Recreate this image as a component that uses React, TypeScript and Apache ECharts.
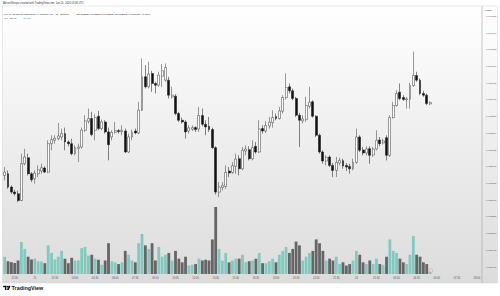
import React, { useEffect, useRef } from "react";
import * as echarts from "echarts";

// ---- data (15m candles, PUAP/USDT perpetual) ----
const opens = [
  0.002674, 0.002679, 0.002639, 0.002624, 0.002619, 0.002599, 0.002709, 0.002727, 0.002679, 0.002664,
  0.002679, 0.002687, 0.002696, 0.002684, 0.002769, 0.002779, 0.002784, 0.002789, 0.002799, 0.002774,
  0.002769, 0.002739, 0.002755, 0.002759, 0.002809, 0.002836, 0.002844, 0.002809, 0.002851, 0.002814,
  0.002834, 0.002804, 0.002789, 0.002803, 0.002808, 0.002805, 0.002807, 0.002744, 0.002789, 0.002807,
  0.002801, 0.002869, 0.002969, 0.002939, 0.002979, 0.002949, 0.002944, 0.002971, 0.002959, 0.002959,
  0.002909, 0.002911, 0.002859, 0.002839, 0.002834, 0.002807, 0.002812, 0.002817, 0.002813, 0.002853,
  0.002827, 0.002821, 0.002811, 0.002757, 0.002624, 0.002638, 0.002641, 0.002687, 0.002683, 0.002701,
  0.002724, 0.002694, 0.002747, 0.002751, 0.002724, 0.002761, 0.002744, 0.002814, 0.002807, 0.002822,
  0.002832, 0.002850, 0.002844, 0.002866, 0.002907, 0.002939, 0.002927, 0.002904, 0.002854, 0.002837,
  0.002841, 0.002881, 0.002894, 0.002851, 0.002794, 0.002744, 0.002717, 0.002729, 0.002704, 0.002689,
  0.002711, 0.002718, 0.002704, 0.002701, 0.002694, 0.002713, 0.002789, 0.002750, 0.002741, 0.002754,
  0.002735, 0.002753, 0.002780, 0.002771, 0.002787, 0.002734, 0.002847, 0.002883, 0.002923, 0.002907,
  0.002900, 0.002902, 0.002943, 0.002973, 0.002959, 0.002919, 0.002914, 0.002888,
];
const closes = [
  0.002684, 0.002639, 0.002624, 0.002619, 0.002599, 0.002709, 0.002729, 0.002679, 0.002661, 0.002681,
  0.002691, 0.002697, 0.002684, 0.002769, 0.002781, 0.002785, 0.002792, 0.002799, 0.002774, 0.002769,
  0.002739, 0.002757, 0.002759, 0.002809, 0.002837, 0.002844, 0.002796, 0.002847, 0.002814, 0.002834,
  0.002804, 0.002766, 0.002803, 0.002808, 0.002805, 0.002809, 0.002744, 0.002789, 0.002803, 0.002801,
  0.002869, 0.002969, 0.002939, 0.002977, 0.002949, 0.002944, 0.002974, 0.002987, 0.002997, 0.002914,
  0.002914, 0.002859, 0.002839, 0.002834, 0.002804, 0.002816, 0.002817, 0.002811, 0.002853, 0.002827,
  0.002819, 0.002811, 0.002757, 0.002624, 0.002639, 0.002643, 0.002683, 0.002681, 0.002703, 0.002723,
  0.002694, 0.002749, 0.002753, 0.002724, 0.002757, 0.002744, 0.002813, 0.002807, 0.002823, 0.002833,
  0.002847, 0.002844, 0.002867, 0.002907, 0.002937, 0.002927, 0.002904, 0.002854, 0.002839, 0.002843,
  0.002883, 0.002893, 0.002851, 0.002794, 0.002744, 0.002717, 0.002728, 0.002704, 0.002689, 0.002713,
  0.002719, 0.002702, 0.002699, 0.002694, 0.002713, 0.002789, 0.002749, 0.002741, 0.002753, 0.002734,
  0.002753, 0.002779, 0.002769, 0.002777, 0.002734, 0.002847, 0.002883, 0.002919, 0.002904, 0.002901,
  0.002903, 0.002943, 0.002973, 0.002959, 0.002919, 0.002914, 0.002889, 0.002892,
];
const highs = [
  0.002699, 0.002689, 0.002644, 0.002631, 0.002629, 0.002739, 0.002754, 0.002739, 0.002684, 0.002689,
  0.002704, 0.002709, 0.002701, 0.002779, 0.002794, 0.002794, 0.002831, 0.002814, 0.002817, 0.002779,
  0.002784, 0.002764, 0.002769, 0.002817, 0.002854, 0.002874, 0.002864, 0.002857, 0.002867, 0.002841,
  0.002839, 0.002817, 0.002809, 0.002834, 0.002813, 0.002824, 0.002814, 0.002799, 0.002811, 0.002814,
  0.002894, 0.003024, 0.003004, 0.003014, 0.002987, 0.002954, 0.002984, 0.003007, 0.003009, 0.002969,
  0.002939, 0.002917, 0.002864, 0.002847, 0.002839, 0.002824, 0.002824, 0.002821, 0.002879, 0.002874,
  0.002839, 0.002849, 0.002817, 0.002761, 0.002654, 0.002654, 0.002704, 0.002699, 0.002714, 0.002739,
  0.002734, 0.002759, 0.002764, 0.002761, 0.002779, 0.002774, 0.002839, 0.002824, 0.002837, 0.002849,
  0.002869, 0.002859, 0.002879, 0.002914, 0.002979, 0.002949, 0.002934, 0.002909, 0.002861, 0.002854,
  0.002909, 0.002939, 0.002899, 0.002854, 0.002799, 0.002749, 0.002734, 0.002734, 0.002711, 0.002729,
  0.002727, 0.002724, 0.002711, 0.002709, 0.002724, 0.002814, 0.002794, 0.002759, 0.002761, 0.002761,
  0.002759, 0.002809, 0.002789, 0.002784, 0.002794, 0.002854, 0.002894, 0.002929, 0.002949, 0.002914,
  0.002909, 0.002951, 0.003044, 0.002984, 0.002964, 0.002927, 0.002919, 0.002896,
];
const lows = [
  0.002659, 0.002634, 0.002619, 0.002614, 0.002594, 0.002597, 0.002704, 0.002674, 0.002654, 0.002649,
  0.002669, 0.002679, 0.002681, 0.002681, 0.002749, 0.002769, 0.002779, 0.002779, 0.002749, 0.002761,
  0.002734, 0.002734, 0.002714, 0.002754, 0.002804, 0.002829, 0.002791, 0.002779, 0.002809, 0.002809,
  0.002799, 0.002719, 0.002779, 0.002799, 0.002799, 0.002794, 0.002741, 0.002741, 0.002779, 0.002797,
  0.002797, 0.002867, 0.002934, 0.002934, 0.002924, 0.002919, 0.002939, 0.002939, 0.002954, 0.002904,
  0.002904, 0.002854, 0.002834, 0.002829, 0.002784, 0.002799, 0.002807, 0.002804, 0.002804, 0.002821,
  0.002794, 0.002804, 0.002754, 0.002617, 0.002609, 0.002629, 0.002634, 0.002669, 0.002679, 0.002679,
  0.002674, 0.002689, 0.002734, 0.002719, 0.002719, 0.002739, 0.002741, 0.002799, 0.002801, 0.002814,
  0.002817, 0.002839, 0.002841, 0.002859, 0.002901, 0.002919, 0.002899, 0.002849, 0.002759, 0.002829,
  0.002834, 0.002874, 0.002847, 0.002789, 0.002739, 0.002709, 0.002704, 0.002699, 0.002669, 0.002669,
  0.002704, 0.002694, 0.002687, 0.002679, 0.002689, 0.002709, 0.002744, 0.002734, 0.002734, 0.002709,
  0.002729, 0.002749, 0.002761, 0.002767, 0.002719, 0.002729, 0.002844, 0.002879, 0.002899, 0.002897,
  0.002874, 0.002874, 0.002939, 0.002954, 0.002914, 0.002909, 0.002884, 0.002884,
];
const volumes = [
  160000, 118000, 110000, 102000, 125000, 296000, 232000, 160000, 135000, 142000,
  118000, 116000, 100000, 265000, 195000, 135000, 160000, 214000, 142000, 100000,
  150000, 125000, 126000, 240000, 250000, 170000, 178000, 142000, 132000, 85000,
  125000, 285000, 118000, 108000, 92000, 108000, 214000, 178000, 125000, 108000,
  285000, 370000, 265000, 232000, 285000, 125000, 250000, 160000, 178000, 195000,
  125000, 214000, 142000, 108000, 160000, 78000, 85000, 92000, 142000, 125000,
  132000, 125000, 320000, 620000, 232000, 125000, 195000, 108000, 125000, 142000,
  142000, 178000, 108000, 118000, 125000, 142000, 195000, 100000, 100000, 118000,
  142000, 108000, 178000, 214000, 250000, 195000, 232000, 300000, 265000, 125000,
  160000, 195000, 214000, 320000, 285000, 214000, 125000, 142000, 125000, 160000,
  92000, 108000, 78000, 92000, 125000, 214000, 178000, 108000, 92000, 125000,
  92000, 142000, 92000, 85000, 160000, 320000, 214000, 195000, 142000, 108000,
  92000, 178000, 352000, 178000, 160000, 108000, 92000, 20350,
];
const xTickLabels = [
  "22:30", "15", "01:30", "03:00", "04:30", "06:00", "07:30", "09:00", "10:30", "12:00",
  "13:30", "15:00", "16:30", "18:00", "19:30", "21:00", "22:30", "16", "01:30", "03:00",
  "04:30", "06:00", "07:30", "09:00",
];
const priceTicks = [
  0.00315, 0.0031, 0.00305, 0.003, 0.00295, 0.0029, 0.00285, 0.0028,
  0.00275, 0.0027, 0.00265, 0.0026, 0.00255, 0.0025, 0.00245, 0.0024,
];
const SYMBOL = "PUAP / TetherUS PERPETUAL CONTRACT · 15 · Binance";
const CREATED = "AltcoinSherpa created with TradingView.com, Jan 16, 2024 05:36 UTC";
const COUNTDOWN = "08:24";

// ---- layout constants ----
const FUTURE_SLOTS = 15;
const TICK_OFFSET = 3;
const TICK_EVERY = 6;
const PRICE_MIN = 0.00237906;
const PRICE_MAX = 0.00318077;
const FONT = '"Liberation Sans", Arial, sans-serif';
const UP_VOL = "#82cac0";
const DOWN_VOL = "#666666";
const TEAL = "#26a69a";

export default function App() {
  const ref = useRef<HTMLDivElement>(null);

  useEffect(() => {
    if (!ref.current) return;
    const chart = echarts.init(ref.current, undefined, { renderer: "svg" });
    const n = opens.length;
    const last = n - 1;
    const slots = Array.from({ length: n + FUTURE_SLOTS }, (_, i) => String(i));
    const candleData = opens.map((o, i) => [o, closes[i], lows[i], highs[i]]);
    const volData = volumes.map((v, i) => ({
      value: v,
      itemStyle: { color: closes[i] >= opens[i] ? UP_VOL : DOWN_VOL },
    }));
    const chg = closes[last] - closes[last - 1];
    const chgPct = (chg / closes[last - 1]) * 100;
    const fmtK = (v: number) => (v / 1000).toFixed(2) + "K";

    const option: any = {
      animation: false,
      textStyle: { fontFamily: FONT },
      grid: [
        { left: 3, top: 6, width: 479, height: 268 },
        { left: 3, top: 207, width: 479, height: 67 },
      ],
      xAxis: [
        {
          type: "category",
          gridIndex: 0,
          data: slots,
          axisLine: { show: false },
          axisTick: { show: false },
          splitLine: { show: false },
          axisLabel: {
            interval: (i: number) => i >= TICK_OFFSET && (i - TICK_OFFSET) % TICK_EVERY === 0,
            formatter: (_v: string, i: number) => xTickLabels[(i - TICK_OFFSET) / TICK_EVERY] ?? "",
            fontSize: 2.6,
            color: "#555555",
            margin: 3,
            fontFamily: FONT,
          },
        },
        {
          type: "category",
          gridIndex: 1,
          data: slots,
          axisLine: { show: false },
          axisTick: { show: false },
          axisLabel: { show: false },
          splitLine: { show: false },
        },
      ],
      yAxis: [
        {
          type: "value",
          gridIndex: 0,
          position: "right",
          min: PRICE_MIN,
          max: PRICE_MAX,
          splitLine: { show: false },
          axisLine: { show: false },
          axisTick: { show: false },
          axisLabel: {
            customValues: priceTicks,
            formatter: (v: number) => v.toFixed(6),
            fontSize: 2.5,
            color: "#555555",
            margin: 4,
            fontFamily: FONT,
          },
        },
        {
          type: "value",
          gridIndex: 1,
          min: 0,
          max: "dataMax",
          show: false,
          splitLine: { show: false },
        },
      ],
      series: [
        {
          type: "bar",
          xAxisIndex: 1,
          yAxisIndex: 1,
          data: volData,
          barWidth: "84%",
          z: 1,
          markLine: {
            silent: true,
            symbol: "none",
            lineStyle: { opacity: 0 },
            label: {
              position: "end",
              distance: 2,
              formatter: () => fmtK(volumes[last]),
              backgroundColor: TEAL,
              color: "#ffffff",
              fontSize: 2.5,
              padding: [0.8, 2],
              fontFamily: FONT,
            },
            data: [{ yAxis: volumes[last] }],
          },
        },
        {
          type: "candlestick",
          xAxisIndex: 0,
          yAxisIndex: 0,
          data: candleData,
          barWidth: "72%",
          z: 3,
          itemStyle: {
            color: "#ffffff",
            color0: "#111111",
            borderColor: "#3a3a3a",
            borderColor0: "#111111",
            borderWidth: 0.5,
          },
          markLine: {
            silent: true,
            symbol: "none",
            lineStyle: { opacity: 0 },
            label: {
              position: "end",
              distance: 1.5,
              formatter: () =>
                `{n|PUAPUSDT.P}\n{p|${closes[last].toFixed(6)}}\n{t|${COUNTDOWN}}`,
              backgroundColor: "#ffffff",
              borderColor: "#cfcfcf",
              borderWidth: 0.3,
              padding: [0.6, 1.5],
              rich: {
                n: { fontSize: 2.2, color: "#555", lineHeight: 3, fontFamily: FONT },
                p: { fontSize: 2.6, color: "#000", fontWeight: "bold", lineHeight: 3.2, fontFamily: FONT },
                t: { fontSize: 2.2, color: "#555", lineHeight: 3, fontFamily: FONT },
              },
            },
            data: [{ yAxis: closes[last] }],
          },
        },
      ],
      graphic: [
        {
          type: "rect",
          z: -10,
          silent: true,
          shape: { x: 2.5, y: 6, width: 495, height: 277 },
          style: {
            fill: new echarts.graphic.LinearGradient(0, 0, 0, 1, [
              { offset: 0, color: "#ffffff" },
              { offset: 1, color: "#dcdcdc" },
            ]),
            stroke: "#d2d2d2",
            lineWidth: 0.5,
          },
        },
        {
          type: "line",
          z: 5,
          silent: true,
          shape: { x1: 482, y1: 6, x2: 482, y2: 283 },
          style: { stroke: "#a3a3a3", lineWidth: 0.6 },
        },
        {
          type: "text",
          x: 3,
          y: 1.5,
          style: { text: CREATED, fontSize: 2.6, fill: "#333", fontFamily: FONT },
        },
        {
          type: "text",
          x: 4,
          y: 8.8,
          style: {
            text:
              `{s|${SYMBOL}}  {v|O${opens[last].toFixed(6)} H${highs[last].toFixed(6)} ` +
              `L${lows[last].toFixed(6)} C${closes[last].toFixed(6)} ` +
              `${chg >= 0 ? "+" : ""}${chg.toFixed(6)} (${chg >= 0 ? "+" : ""}${chgPct.toFixed(2)}%)}`,
            fontFamily: FONT,
            rich: {
              s: { fontSize: 2.5, fill: "#333", fontFamily: FONT },
              v: { fontSize: 2.5, fill: "#111", fontFamily: FONT },
            },
          },
        },
        {
          type: "text",
          x: 4,
          y: 12.8,
          style: {
            text: `{s|Vol · PUAP}  {v|${fmtK(volumes[last])}}`,
            fontFamily: FONT,
            rich: {
              s: { fontSize: 2.5, fill: "#333", fontFamily: FONT },
              v: { fontSize: 2.5, fill: TEAL, fontFamily: FONT },
            },
          },
        },
        {
          type: "text",
          x: 485,
          y: 8.7,
          style: { text: "USDT", fontSize: 2.5, fill: "#333", fontFamily: FONT },
        },
        {
          type: "circle",
          z: 6,
          shape: { cx: 431, cy: 270.5, r: 1.8 },
          style: { fill: "#f6d3ea", stroke: "#c77bb0", lineWidth: 0.4 },
        },
        {
          type: "rect",
          shape: { x: 3, y: 285.8, width: 3.4, height: 1.4 },
          style: { fill: "#131722" },
        },
        {
          type: "rect",
          shape: { x: 4.9, y: 285.8, width: 1.5, height: 4.2 },
          style: { fill: "#131722" },
        },
        {
          type: "circle",
          shape: { cx: 7.6, cy: 286.6, r: 0.8 },
          style: { fill: "#131722" },
        },
        {
          type: "polygon",
          shape: { points: [[8.6, 285.8], [10.6, 285.8], [8.8, 290], [6.9, 290]] },
          style: { fill: "#131722" },
        },
        {
          type: "text",
          x: 11.6,
          y: 285,
          style: {
            text: "TradingView",
            fontSize: 5.4,
            fontWeight: "bold",
            fill: "#131722",
            fontFamily: FONT,
          },
        },
      ],
    };
    chart.setOption(option);
    return () => chart.dispose();
  }, []);

  return (
    <div
      ref={ref}
      style={{ position: "fixed", left: 0, top: 0, width: 500, height: 296, background: "#ffffff" }}
    />
  );
}
